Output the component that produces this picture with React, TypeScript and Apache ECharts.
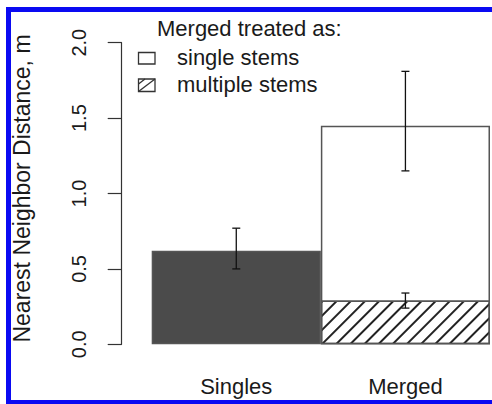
import React, { useEffect, useRef } from "react";
import * as echarts from "echarts";

const categories = ["Singles", "Merged"];
const singleStemValues = [0.62, 1.45];
const multipleStemValues: (number | null)[] = [null, 0.29];
const errorBars = [
  [0, 0.5, 0.77],
  [1, 1.15, 1.81],
  [1, 0.24, 0.34],
];
const yTicks = { min: 0, max: 2.0, interval: 0.5 };
const yTitle = "Nearest Neighbor Distance, m";
const legendTitle = "Merged treated as:";
const legendItems = ["single stems", "multiple stems"];

const FONT = "'Liberation Sans', Arial, Helvetica, sans-serif";
const TXT = "#1a1a1a";

export default function App() {
  const ref = useRef<HTMLDivElement>(null);
  useEffect(() => {
    if (!ref.current) return;
    const chart = echarts.init(ref.current, undefined, { renderer: "svg" });
    const option: any = {
      animation: false,
      backgroundColor: "#ffffff",
      grid: { left: 151.7, right: 2, top: 42.7, bottom: 59.7 },
      xAxis: {
        type: "category",
        data: categories,
        axisLine: { show: false },
        axisTick: { show: false },
        axisLabel: { margin: 31, fontSize: 22, color: TXT, fontFamily: FONT },
      },
      yAxis: {
        type: "value",
        min: yTicks.min,
        max: yTicks.max,
        interval: yTicks.interval,
        offset: 30,
        splitLine: { show: false },
        axisLine: { show: true, lineStyle: { color: "#333", width: 1.2 } },
        axisTick: { show: true, length: 14, lineStyle: { color: "#333", width: 1.2 } },
        axisLabel: {
          rotate: 90,
          margin: 33,
          fontSize: 20,
          color: TXT,
          fontFamily: FONT,
          formatter: (v: number) => v.toFixed(1),
        },
      },
      series: [
        {
          name: legendItems[0],
          type: "bar",
          data: singleStemValues.map((v, i) => ({
            value: v,
            itemStyle: { color: i === 0 ? "#4b4b4b" : "#ffffff" },
          })),
          barWidth: "100%",
          barGap: "-100%",
          itemStyle: { borderColor: "#555", borderWidth: 1.5 },
        },
        {
          name: legendItems[1],
          type: "bar",
          data: multipleStemValues,
          barWidth: "100%",
          barGap: "-100%",
          itemStyle: {
            color: "#ffffff",
            borderColor: "#555",
            borderWidth: 1.5,
            decal: {
              symbol: "rect",
              symbolSize: 1,
              color: "#222",
              dashArrayX: [1, 0],
              dashArrayY: [1.2, 7.1],
              rotation: -Math.PI / 4,
            },
          },
        },
        {
          type: "custom",
          data: errorBars,
          encode: { x: 0, y: [1, 2] },
          z: 10,
          renderItem: (params: any, api: any) => {
            const c = api.value(0);
            const lo = api.coord([c, api.value(1)]);
            const hi = api.coord([c, api.value(2)]);
            const w = 4;
            const style = { stroke: "#111", lineWidth: 1.3 };
            return {
              type: "group",
              children: [
                { type: "line", shape: { x1: lo[0], y1: lo[1], x2: hi[0], y2: hi[1] }, style },
                { type: "line", shape: { x1: lo[0] - w, y1: lo[1], x2: lo[0] + w, y2: lo[1] }, style },
                { type: "line", shape: { x1: hi[0] - w, y1: hi[1], x2: hi[0] + w, y2: hi[1] }, style },
              ],
            };
          },
        },
      ],
      graphic: [
        {
          type: "line",
          shape: { x1: 8.5, y1: 7, x2: 8.5, y2: 404 },
          style: { stroke: "#0a0af2", lineWidth: 5 },
          z: 100,
        },
        {
          type: "line",
          shape: { x1: 6, y1: 9.5, x2: 492, y2: 9.5 },
          style: { stroke: "#0a0af2", lineWidth: 5 },
          z: 100,
        },
        {
          type: "line",
          shape: { x1: 6, y1: 402.5, x2: 492, y2: 402.5 },
          style: { stroke: "#0a0af2", lineWidth: 5 },
          z: 100,
        },
        {
          type: "text",
          x: 22,
          y: 188.5,
          rotation: Math.PI / 2,
          style: {
            text: yTitle,
            fontSize: 23,
            fontFamily: FONT,
            fill: TXT,
            align: "center",
            verticalAlign: "middle",
          },
        },
        {
          type: "text",
          x: 157,
          y: 28,
          style: { text: legendTitle, fontSize: 22, fontFamily: FONT, fill: TXT, align: "left", verticalAlign: "middle" },
        },
        {
          type: "text",
          x: 177,
          y: 57,
          style: { text: legendItems[0], fontSize: 22, fontFamily: FONT, fill: TXT, align: "left", verticalAlign: "middle" },
        },
        {
          type: "text",
          x: 177,
          y: 84,
          style: { text: legendItems[1], fontSize: 22, fontFamily: FONT, fill: TXT, align: "left", verticalAlign: "middle" },
        },
        {
          type: "rect",
          shape: { x: 138.5, y: 52.5, width: 16.5, height: 11.5 },
          style: { fill: "#fff", stroke: "#333", lineWidth: 1.3 },
        },
        {
          type: "rect",
          shape: { x: 138.5, y: 79, width: 16.5, height: 12.5 },
          style: { fill: "#fff", stroke: "#333", lineWidth: 1.3 },
        },
        {
          type: "line",
          shape: { x1: 138.5, y1: 91.5, x2: 155, y2: 79 },
          style: { stroke: "#333", lineWidth: 1.3 },
        },
        {
          type: "line",
          shape: { x1: 138.5, y1: 84, x2: 145, y2: 79 },
          style: { stroke: "#333", lineWidth: 1.3 },
        },
      ],
    };
    chart.setOption(option);
    return () => chart.dispose();
  }, []);
  return (
    <div
      ref={ref}
      style={{ position: "fixed", left: 0, top: 0, width: 492, height: 404, background: "#fff" }}
    />
  );
}
